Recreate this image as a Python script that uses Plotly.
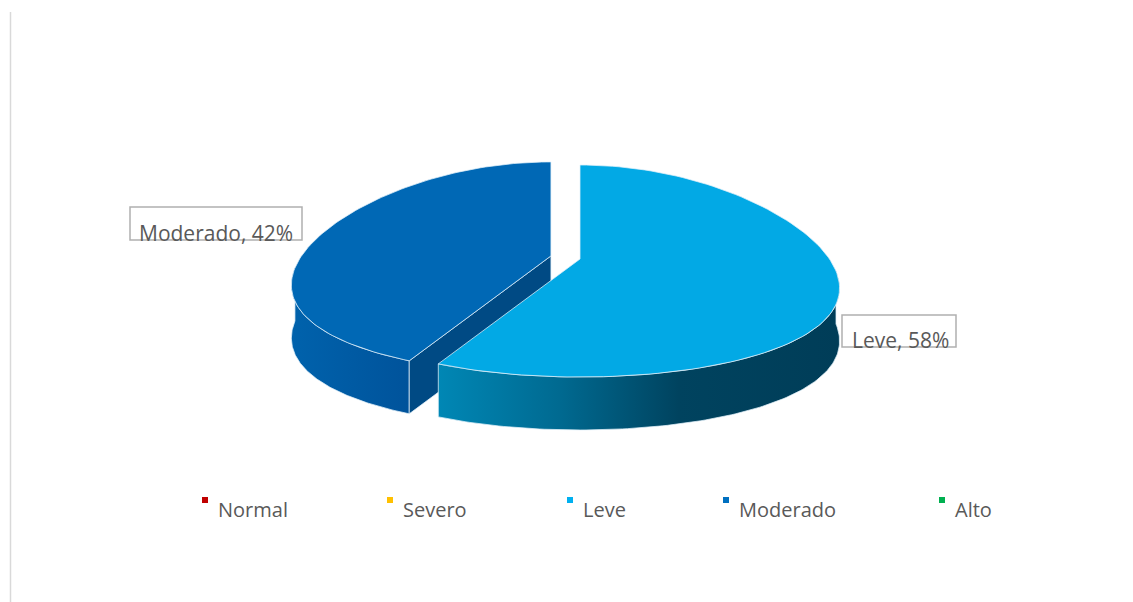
import numpy as np
import plotly.graph_objects as go

# ---------------- data ----------------
categories = ["Normal", "Severo", "Leve", "Moderado", "Alto"]
values = [0, 0, 58, 42, 0]
legend_colors = ["#C00000", "#FFC000", "#00B0F0", "#0070C0", "#00B050"]
top_colors = {"Leve": "#02A9E5", "Moderado": "#0068B5"}
side_scales = {
    "Leve": [[0, "#0087B5"], [0.3, "#006A91"], [0.6, "#00435F"], [1, "#003D58"]],
    "Moderado": [[0, "#0062AC"], [1, "#00539B"]],
}
cut_colors = {"Moderado": "#004A84"}
explode = {"Leve": 0, "Moderado": 30}

# ---------------- geometry (pixel space) ----------------
W, H = 1133, 602
CX, CY = 580, 271
RX, RY = 256, 106
K = 0.17          # perspective widening of front
APEX_UP = 12
DEPTH = 53
EDGE = dict(color="rgba(225,240,250,0.75)", width=1)


def proj(cx, cy, th_deg, z=0.0):
    th = np.radians(th_deg)
    s = 1 + K * (-np.cos(th))
    x = cx + RX * np.sin(th) * s
    y = cy - RY * np.cos(th) + z
    return x, y


def arc(cx, cy, a, b, z=0.0, n=120):
    th = np.linspace(a, b, n)
    return proj(cx, cy, th, z)


fig = go.Figure()

total = sum(values)
starts = {}
acc = 0.0
for c, v in zip(categories, values):
    a = acc / total * 360
    acc += v
    b = acc / total * 360
    starts[c] = (a, b)

# draw back-most (exploded left) slice first, then front slice
order = ["Moderado", "Leve"]

for c in order:
    a, b = starts[c]
    mid = np.radians((a + b) / 2)
    d = explode[c]
    cx = CX + d * np.sin(mid)
    cy = CY - d * (RY / RX) * np.cos(mid)
    ax, ay = cx, cy - APEX_UP

    # outer side (front-facing part, 90..270)
    sa, sb = max(a, 90), min(b, 270)
    if sb > sa:
        tx, ty = arc(cx, cy, sa, sb)
        bx, by = arc(cx, cy, sb, sa, DEPTH)
        xs = np.concatenate([tx, bx, tx[:1]])
        ys = np.concatenate([ty, by, ty[:1]])
        fig.add_trace(go.Scatter(
            x=xs, y=ys, mode="lines", fill="toself",
            fillgradient=dict(type="horizontal", colorscale=side_scales[c]),
            line=EDGE, hoverinfo="skip", showlegend=False))

    # visible cut face at slice start
    if c in cut_colors:
        px, py = proj(cx, cy, a)
        xs = [ax, px, px, ax, ax]
        ys = [ay, py, py + DEPTH, ay + DEPTH, ay]
        fig.add_trace(go.Scatter(
            x=xs, y=ys, mode="lines", fill="toself", fillcolor=cut_colors[c],
            line=EDGE, hoverinfo="skip", showlegend=False))

    # top face
    tx, ty = arc(cx, cy, a, b)
    xs = np.concatenate([[ax], tx, [ax]])
    ys = np.concatenate([[ay], ty, [ay]])
    fig.add_trace(go.Scatter(
        x=xs, y=ys, mode="lines", fill="toself", fillcolor=top_colors[c],
        line=EDGE, hoverinfo="skip", showlegend=False))

# ---------------- data labels ----------------
FONT = "Open Sans, DejaVu Sans, sans-serif"
TXT = "#595959"
label_boxes = {"Moderado": (130, 207, 302, 240, 137, 233),
               "Leve": (842, 315, 956, 347, 850, 340)}
shapes = []
annotations = []
for c, v in zip(categories, values):
    if c not in label_boxes:
        continue
    x0, y0, x1, y1, tx, ty = label_boxes[c]
    pct = round(v / total * 100)
    shapes.append(dict(type="rect", xref="x", yref="y", x0=x0, y0=y0, x1=x1, y1=y1,
                       line=dict(color="#B0B0B0", width=1.5), fillcolor="rgba(0,0,0,0)",
                       layer="above"))
    annotations.append(dict(x=tx, y=ty, xref="x", yref="y", text=f"{c}, {pct}%",
                            showarrow=False, xanchor="left", yanchor="middle",
                            font=dict(family=FONT, size=21, color=TXT)))

# ---------------- legend (Excel style) ----------------
legend_marker_x = [202, 387, 567, 723, 939]
for name, col, mx in zip(categories, legend_colors, legend_marker_x):
    shapes.append(dict(type="rect", xref="x", yref="y", x0=mx, x1=mx + 6, y0=497, y1=503,
                       fillcolor=col, line=dict(width=0)))
    annotations.append(dict(x=mx + 14, y=509, xref="x", yref="y", text=name,
                            showarrow=False, xanchor="left", yanchor="middle",
                            font=dict(family=FONT, size=20, color=TXT)))

# left border line
shapes.append(dict(type="line", xref="x", yref="y", x0=10.5, x1=10.5, y0=12, y1=602,
                   line=dict(color="#D9D9D9", width=1.5)))

fig.update_layout(
    width=W, height=H, autosize=False,
    margin=dict(l=0, r=0, t=0, b=0),
    paper_bgcolor="white", plot_bgcolor="white",
    xaxis=dict(range=[0, W], visible=False, fixedrange=True),
    yaxis=dict(range=[H, 0], visible=False, fixedrange=True),
    shapes=shapes, annotations=annotations, showlegend=False,
)

fig.write_html("out.html")
